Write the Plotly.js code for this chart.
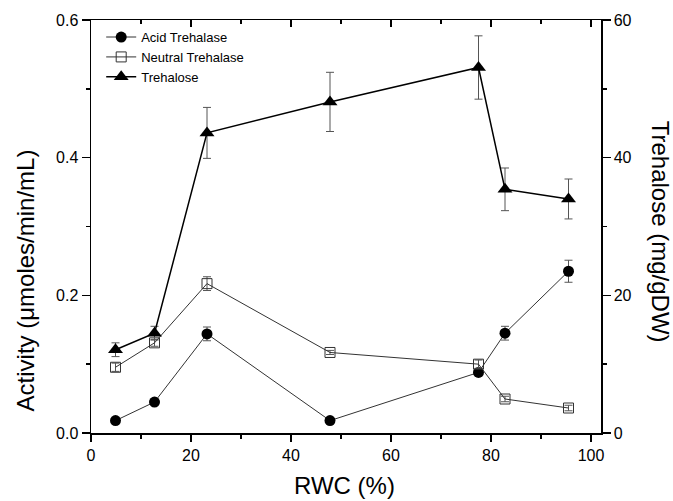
<!DOCTYPE html>
<html><head><meta charset="utf-8">
<script src="https://cdn.plot.ly/plotly-3.0.1.min.js"></script>
<style>html,body{margin:0;padding:0;background:#fff}#chart{width:673px;height:501px}</style>
</head><body><div id="chart"></div>
<script>
var rwc = [4.9, 12.7, 23.2, 47.8, 77.5, 82.8, 95.5];
var acid = [0.018, 0.045, 0.144, 0.018, 0.088, 0.145, 0.235];
var acidErr = [0.002, 0.002, 0.010, 0.002, 0.005, 0.010, 0.016];
var neutral = [0.0955, 0.131, 0.217, 0.117, 0.100, 0.0494, 0.0363];
var neutralErr = [0.006, 0.005, 0.010, 0.003, 0.006, 0.004, 0.004];
var trehalose = [12.1, 14.5, 43.6, 48.1, 53.1, 35.4, 34.0];
var trehaloseErr = [1.0, 1.0, 3.7, 4.3, 4.6, 3.1, 2.9];
var xTicks = [0, 20, 40, 60, 80, 100];
var yTicks = [0, 0.2, 0.4, 0.6];
var y2Ticks = [0, 20, 40, 60];

var errStyle = {type: 'data', visible: true, color: '#555', thickness: 1, width: 4};
var traces = [
  {x: rwc, y: acid, name: 'Acid Trehalase', type: 'scatter', mode: 'lines+markers',
   line: {color: '#333', width: 1}, marker: {symbol: 'circle', size: 11, color: '#000'},
   error_y: Object.assign({array: acidErr}, errStyle)},
  {x: rwc, y: neutral, name: 'Neutral Trehalase', type: 'scatter', mode: 'lines+markers',
   line: {color: '#333', width: 1}, marker: {symbol: 'square-open', size: 10, color: '#333', line: {width: 1}},
   error_y: Object.assign({array: neutralErr}, errStyle)},
  {x: rwc, y: trehalose, name: 'Trehalose', type: 'scatter', mode: 'lines+markers', yaxis: 'y2',
   line: {color: '#000', width: 1.5}, marker: {symbol: 'triangle-up', size: 13, color: '#000'},
   error_y: Object.assign({array: trehaloseErr}, errStyle)}
];

var fam = 'Liberation Sans, Arial, sans-serif';
var titleFont = {family: fam, size: 24, color: '#000'};
var layout = {
  width: 673, height: 501,
  margin: {l: 91, r: 72, t: 20, b: 68},
  paper_bgcolor: '#fff', plot_bgcolor: '#fff',
  font: {family: fam, color: '#000'},
  showlegend: true,
  legend: {x: 0.02, y: 0.995, xanchor: 'left', yanchor: 'top', bgcolor: 'rgba(0,0,0,0)',
           font: {family: fam, size: 13, color: '#000'}, tracegroupgap: 0, itemwidth: 30},
  xaxis: {range: [0, 102], tickvals: xTicks, ticktext: xTicks.map(String),
          ticks: 'outside', ticklen: 7, tickwidth: 1.5, tickcolor: '#000',
          minor: {dtick: 10, tick0: 0, ticks: 'outside', ticklen: 4, tickcolor: '#000'},
          showline: true, linecolor: '#000', linewidth: 1.5, zeroline: false, showgrid: false,
          tickfont: {family: fam, size: 16}},
  xaxis2: {range: [0, 102], overlaying: 'x', side: 'top', anchor: 'y', tickvals: xTicks,
           showticklabels: false, ticks: 'inside', ticklen: 7, tickwidth: 1.5, tickcolor: '#000',
           minor: {dtick: 10, tick0: 0, ticks: 'inside', ticklen: 4, tickcolor: '#000'},
           showline: true, linecolor: '#000', linewidth: 1.5, zeroline: false, showgrid: false},
  yaxis: {range: [0, 0.6], tickvals: yTicks, ticktext: ['0.0', '0.2', '0.4', '0.6'],
          ticks: 'outside', ticklen: 8, tickwidth: 1.5, tickcolor: '#000',
          minor: {dtick: 0.1, tick0: 0, ticks: 'outside', ticklen: 4, tickcolor: '#000'},
          showline: true, linecolor: '#000', linewidth: 1.5, zeroline: false, showgrid: false,
          tickfont: {family: fam, size: 16}},
  yaxis2: {range: [0, 60], overlaying: 'y', side: 'right', anchor: 'x', tickvals: y2Ticks,
           ticks: 'outside', ticklen: 8, tickwidth: 1.5, tickcolor: '#000',
           minor: {dtick: 10, tick0: 0, ticks: 'outside', ticklen: 4, tickcolor: '#000'},
           showline: true, linecolor: '#000', linewidth: 1.5, zeroline: false, showgrid: false,
           tickfont: {family: fam, size: 16}},
  annotations: [
    {text: 'RWC (%)', xref: 'paper', yref: 'paper', x: 0.498, y: -0.128, xanchor: 'center', yanchor: 'middle',
     showarrow: false, font: titleFont},
    {text: 'Activity (\u03bcmoles/min/mL)', xref: 'paper', yref: 'paper', x: -0.129, y: 0.37,
     xanchor: 'center', yanchor: 'middle', textangle: -90, showarrow: false, font: titleFont},
    {text: 'Trehalose (mg/gDW)', xref: 'paper', yref: 'paper', x: 1.116, y: 0.487,
     xanchor: 'center', yanchor: 'middle', textangle: 90, showarrow: false, font: titleFont}
  ]
};
traces.push({x: [0], y: [0], xaxis: 'x2', yaxis: 'y', showlegend: false, hoverinfo: 'skip',
             mode: 'markers', marker: {opacity: 0}});
Plotly.newPlot('chart', traces, layout, {displayModeBar: false, staticPlot: true});
</script></body></html>
